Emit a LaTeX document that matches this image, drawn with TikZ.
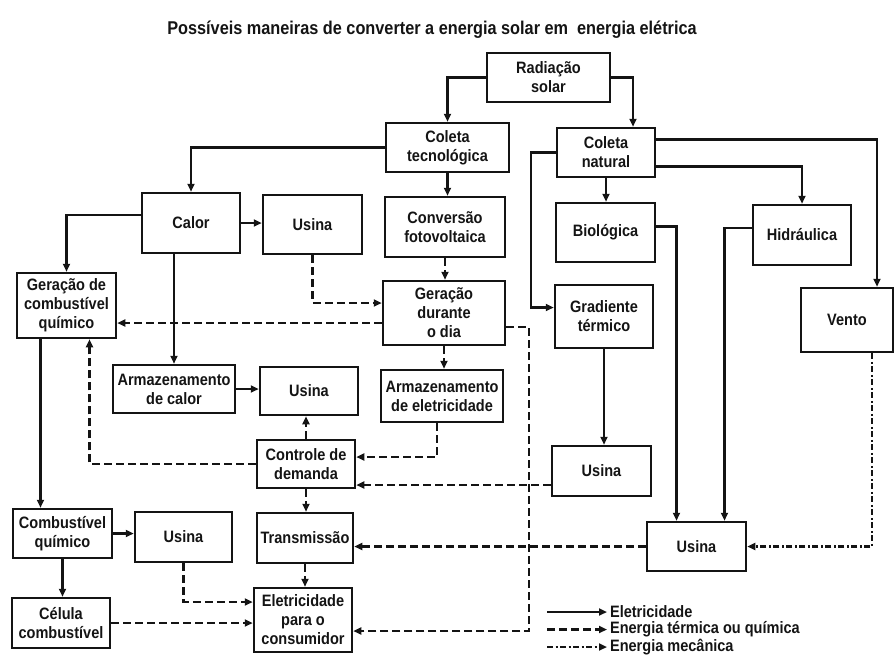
\documentclass[tikz,border=0pt]{standalone}
\usepackage{fontspec}
\setmainfont{Liberation Sans}[FakeStretch=0.88]
\usetikzlibrary{arrows.meta}
\definecolor{ink}{HTML}{141414}

\begin{document}
\begin{tikzpicture}[x=1pt,y=-1pt,line width=2.2pt,color=ink,
    caixa/.style={draw=ink,line width=2.5pt,align=center,inner sep=1pt,
      font=\bfseries\fontsize{16.5}{19}\selectfont},
    fluxoE/.style={-{Triangle[length=8pt,width=7pt]}},
    fluxoT/.style={fluxoE,dash pattern=on 8pt off 4pt},
    fluxoM/.style={fluxoE,dash pattern=on 6pt off 2.5pt on 2pt off 2.5pt}]
  \useasboundingbox (0,0) rectangle (895,657);
  \node[font=\bfseries\fontsize{18.5}{22}\selectfont] (titulo) at (432,30)
    {Possíveis maneiras de converter a energia solar em\ \ energia elétrica};
  % caixas: nome/x/y/largura/altura/texto
  \foreach \n/\x/\y/\w/\h/\t in {%
    rad/548.5/77.5/123/49/{Radiação\\solar},
    ctec/447.5/147.5/123/49/{Coleta\\tecnológica},
    cnat/606/152.5/98/49/{Coleta\\natural},
    calor/191/223/98/60/{Calor},
    usinaA/312.5/224.5/99/59/{Usina},
    conv/445/227/120/60/{Conversão\\fotovoltaica},
    bio/605.5/232.5/99/59/{Biológica},
    hidr/802/235/98/60/{Hidráulica},
    gcomb/66.5/305.5/99/65/{Geração de\\combustível\\químico},
    gdia/444/313/122/64/{Geração\\durante\\o dia},
    grad/604/316.5/98/63/{Gradiente\\térmico},
    vento/847/320/92/64/{Vento},
    armc/174/389/122/48/{Armazenamento\\de calor},
    usinaB/309/391/98/48/{Usina},
    arme/442/396/122/52/{Armazenamento\\de eletricidade},
    ctrl/306/464/98/48/{Controle de\\demanda},
    usinaC/601.5/471/99/50/{Usina},
    comb/62.5/533.5/99/49/{Combustível\\químico},
    usinaD/183.5/537/97/50/{Usina},
    trans/305/538/96/50/{Transmissão},
    usinaE/696.5/546.5/99/49/{Usina},
    celula/61/623/98/50/{Célula\\combustível},
    elet/303/620/98/64/{Eletricidade\\para o\\consumidor}}{
    \node[caixa,minimum width=\w,minimum height=\h] (\n) at (\x,\y) {\t};}
  % eletricidade
  \draw[fluxoE] (rad.west) -| (ctec.north);
  \draw[fluxoE] (rad.east) -| ([xshift=27]cnat.north);
  \draw[fluxoE] (ctec.west) -| (calor.north);
  \draw[fluxoE] (ctec.south) -- (ctec.south |- conv.north);
  \draw[fluxoE] (cnat.south) -- (cnat.south |- bio.north);
  \draw[fluxoE] (cnat.west) -- ++(-25,0) |- ([yshift=9]grad.west);
  \draw[fluxoE] ([yshift=13]cnat.east) -| ([xshift=30]vento.north);
  \draw[fluxoE] ([yshift=-14]cnat.east) -| (hidr.north);
  \draw[fluxoE] ([yshift=6]bio.east) -| ([xshift=-20]usinaE.north);
  \draw[fluxoE] ([yshift=7]hidr.west) -| ([xshift=28]usinaE.north);
  \draw[fluxoE] (grad.south) -- (grad.south |- usinaC.north);
  \draw[fluxoE] (calor.east) -- (calor.east -| usinaA.west);
  \draw[fluxoE] ([yshift=8]calor.west) -| (gcomb.north);
  \draw[fluxoE] (armc.north |- calor.south) -- (armc.north);
  \draw[fluxoE] (armc.east) -- (armc.east -| usinaB.west);
  \draw[fluxoE] ([xshift=-26]gcomb.south) -- ([xshift=-26]gcomb.south |- comb.north);
  \draw[fluxoE] (comb.east) -- (comb.east -| usinaD.west);
  \draw[fluxoE] (comb.south) -- (comb.south |- celula.north);
  % energia termica ou quimica
  \draw[fluxoT] (usinaA.south) |- ([yshift=10]gdia.west);
  \draw[fluxoT] ([yshift=-10]gdia.west) -- ([yshift=-10]gdia.west -| gcomb.east);
  \draw[fluxoT] (conv.south) -- (conv.south |- gdia.north);
  \draw[fluxoT] (gdia.south) -- (gdia.south |- arme.north);
  \draw[fluxoT] ([yshift=-14]gdia.east) -- ++(23,0) |- ([yshift=-11]elet.east);
  \draw[fluxoT] ([xshift=-5]arme.south) |- ([yshift=7]ctrl.east);
  \draw[fluxoT] ([yshift=-14]usinaC.west) -- ([yshift=-14]usinaC.west -| ctrl.east);
  \draw[fluxoT] (ctrl.north) -- (ctrl.north |- usinaB.south);
  \draw[fluxoT] (ctrl.west) -| ([xshift=23]gcomb.south);
  \draw[fluxoT] (ctrl.south) -- (ctrl.south |- trans.north);
  \draw[fluxoT] (trans.south) -- (trans.south |- elet.north);
  \draw[fluxoT] (usinaE.west) -- (usinaE.west -| trans.east);
  \draw[fluxoT] (usinaD.south) |- ([yshift=18]elet.west);
  \draw[fluxoT] (celula.east) -- (celula.east -| elet.west);
  % energia mecanica
  \draw[fluxoM] ([xshift=25]vento.south) |- (usinaE.east);
  % legenda
  \foreach \i/\s/\txt in {0/fluxoE/Eletricidade, 1/fluxoT/Energia térmica ou química,
    2/fluxoM/Energia mecânica}{
    \coordinate (leg\i) at (547,612+17.5*\i);
    \node[right,inner sep=2pt,font=\bfseries\fontsize{16.5}{19}\selectfont] (legt\i)
      at (607,612+17.5*\i) {\txt};
    \draw[\s] (leg\i) -- (legt\i.west);}
\end{tikzpicture}
\end{document}
